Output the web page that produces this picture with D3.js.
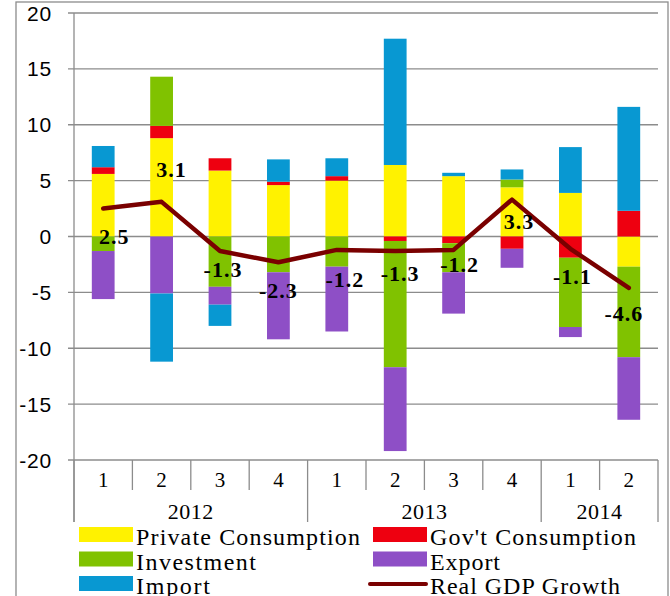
<!DOCTYPE html>
<html>
<head>
<meta charset="utf-8">
<script src="https://cdn.jsdelivr.net/npm/d3@7"></script>
<style>
  body { margin: 0; background: #fff; }
  svg { display: block; }
</style>
</head>
<body>
<svg width="670" height="596"></svg>
<script>
// quarters and years on the category axis
const quarters = ['1', '2', '3', '4', '1', '2', '3', '4', '1', '2'];
const years = ['2012', '2013', '2014'];
const quartersPerYear = [4, 4, 2];

// contributions (percentage points)
const privateConsumption = [5.6, 8.8, 5.9, 4.6, 5.0, 6.4, 5.4, 4.4, 3.9, -2.7];
const govConsumption = [0.6, 1.1, 1.1, 0.3, 0.4, -0.4, -0.6, -1.1, -1.9, 2.3];
const investment = [-1.3, 4.4, -4.5, -3.2, -2.7, -11.3, -2.6, 0.7, -6.2, -8.1];
const exportC = [-4.3, -5.1, -1.6, -6.0, -5.8, -7.5, -3.7, -1.7, -0.9, -5.6];
const importC = [1.9, -6.1, -1.9, 2.0, 1.6, 11.3, 0.3, 0.9, 4.1, 9.3];
const gdpGrowth = [2.5, 3.1, -1.3, -2.3, -1.2, -1.3, -1.2, 3.3, -1.1, -4.6];

const seriesNames = ['Private Consumption', "Gov't Consumption", 'Investment', 'Export', 'Import'];
const seriesColors = ['#fff200', '#ee0010', '#80c200', '#8e4fc6', '#0898d2'];
const yTicks = [-20, -15, -10, -5, 0, 5, 10, 15, 20];

// hand placed data labels, offsets from the line point
const labelOffsets = [[11, 35], [10, -25], [3, 26], [0, 36], [8, 37], [5, 30], [6, 22], [7, 29], [2, 35], [-5, 33]];

const svg = d3.select('svg');
const plotLeft = 74, plotRight = 658, plotTop = 13, plotBottom = 460;

// outer frame
svg.append('rect')
  .attr('x', 16).attr('y', 2).attr('width', 652).attr('height', 620)
  .attr('fill', 'none').attr('stroke', '#8c8c8c').attr('stroke-width', 1.3);

const x = d3.scaleBand().domain(d3.range(quarters.length)).range([plotLeft, plotRight]).padding(0);
const y = d3.scaleLinear().domain([-20, 20]).range([plotBottom, plotTop]);
const barW = x.bandwidth() * 0.39;

// gridlines + y ticks
svg.append('g')
  .selectAll('line')
  .data(yTicks)
  .enter()
  .append('line')
  .attr('x1', plotLeft - 6).attr('x2', plotRight)
  .attr('y1', d => y(d)).attr('y2', d => y(d))
  .attr('stroke', '#8c8c8c').attr('stroke-width', 1.3);

svg.append('g')
  .selectAll('text')
  .data(yTicks)
  .enter()
  .append('text')
  .attr('x', 52).attr('y', d => y(d) + 7.5)
  .attr('text-anchor', 'end')
  .attr('font-family', 'Liberation Sans, Arial, sans-serif')
  .attr('font-size', 21)
  .attr('letter-spacing', 0.8)
  .text(d => d);

// stacked bars (diverging)
const table = quarters.map((q, i) => ({
  i: i,
  'Private Consumption': privateConsumption[i],
  "Gov't Consumption": govConsumption[i],
  'Investment': investment[i],
  'Export': exportC[i],
  'Import': importC[i]
}));

const stack = d3.stack().keys(seriesNames).offset(d3.stackOffsetDiverging);
const layers = stack(table);

svg.append('g')
  .selectAll('g')
  .data(layers)
  .enter()
  .append('g')
  .attr('fill', (d, k) => seriesColors[k])
  .selectAll('rect')
  .data(d => d)
  .enter()
  .append('rect')
  .attr('x', d => x(d.data.i) + (x.bandwidth() - barW) / 2)
  .attr('width', barW)
  .attr('y', d => y(Math.max(d[0], d[1])))
  .attr('height', d => Math.abs(y(d[0]) - y(d[1])));

// y axis line
svg.append('line')
  .attr('x1', plotLeft).attr('x2', plotLeft).attr('y1', plotTop).attr('y2', 522)
  .attr('stroke', '#8c8c8c').attr('stroke-width', 1.3);

// category axis: quarter ticks, year separators
const boundaries = d3.range(quarters.length + 1).map(i => plotLeft + i * x.step());
const yearEdges = [0];
quartersPerYear.forEach(n => yearEdges.push(yearEdges[yearEdges.length - 1] + n));

svg.append('g')
  .selectAll('line')
  .data(boundaries)
  .enter()
  .append('line')
  .attr('x1', d => d).attr('x2', d => d)
  .attr('y1', plotBottom)
  .attr('y2', (d, i) => yearEdges.includes(i) ? 522 : 490)
  .attr('stroke', '#8c8c8c').attr('stroke-width', 1.3);

svg.append('g')
  .selectAll('text')
  .data(quarters)
  .enter()
  .append('text')
  .attr('x', (d, i) => x(i) + x.bandwidth() / 2)
  .attr('y', 487)
  .attr('text-anchor', 'middle')
  .attr('font-family', 'Liberation Serif, Times New Roman, serif')
  .attr('font-size', 21)
  .text(d => d);

svg.append('g')
  .selectAll('text')
  .data(years)
  .enter()
  .append('text')
  .attr('x', (d, i) => (boundaries[yearEdges[i]] + boundaries[yearEdges[i + 1]]) / 2)
  .attr('y', 519)
  .attr('text-anchor', 'middle')
  .attr('font-family', 'Liberation Serif, Times New Roman, serif')
  .attr('font-size', 22)
  .attr('letter-spacing', 0.5)
  .text(d => d);

// real GDP growth line
const line = d3.line()
  .x((d, i) => x(i) + x.bandwidth() / 2)
  .y(d => y(d));

svg.append('path')
  .datum(gdpGrowth)
  .attr('d', line)
  .attr('fill', 'none')
  .attr('stroke', '#7a0000')
  .attr('stroke-width', 4.5)
  .attr('stroke-linejoin', 'round')
  .attr('stroke-linecap', 'round');

svg.append('g')
  .selectAll('text')
  .data(gdpGrowth)
  .enter()
  .append('text')
  .attr('x', (d, i) => x(i) + x.bandwidth() / 2 + labelOffsets[i][0])
  .attr('y', (d, i) => y(d) + labelOffsets[i][1])
  .attr('text-anchor', 'middle')
  .attr('font-family', 'Liberation Serif, Times New Roman, serif')
  .attr('font-weight', 'bold')
  .attr('font-size', 22)
  .attr('letter-spacing', 1)
  .text(d => d.toFixed(1));

// legend
const legendItems = [
  { name: 'Private Consumption', color: seriesColors[0], type: 'box', col: 0, row: 0, w: 224 },
  { name: "Gov't Consumption", color: seriesColors[1], type: 'box', col: 1, row: 0, w: 206 },
  { name: 'Investment', color: seriesColors[2], type: 'box', col: 0, row: 1, w: 120 },
  { name: 'Export', color: seriesColors[3], type: 'box', col: 1, row: 1, w: 70 },
  { name: 'Import', color: seriesColors[4], type: 'box', col: 0, row: 2, w: 74 },
  { name: 'Real GDP Growth', color: '#7a0000', type: 'line', col: 1, row: 2, w: 190 }
];
const colX = [79, 373];

const lg = svg.append('g')
  .selectAll('g')
  .data(legendItems)
  .enter()
  .append('g')
  .attr('transform', d => 'translate(' + colX[d.col] + ',' + (527 + d.row * 24.5) + ')');

lg.filter(d => d.type === 'box')
  .append('rect')
  .attr('width', 54).attr('height', 15)
  .attr('fill', d => d.color);

lg.filter(d => d.type === 'line')
  .append('line')
  .attr('x1', -3).attr('x2', 53).attr('y1', 8).attr('y2', 8)
  .attr('stroke', d => d.color)
  .attr('stroke-width', 4)
  .attr('stroke-linecap', 'round');

lg.append('text')
  .attr('x', 57)
  .attr('y', 18)
  .attr('font-family', 'Liberation Serif, Times New Roman, serif')
  .attr('font-size', 24)
  .attr('textLength', d => d.w)
  .attr('lengthAdjust', 'spacing')
  .text(d => d.name);
</script>
</body>
</html>
